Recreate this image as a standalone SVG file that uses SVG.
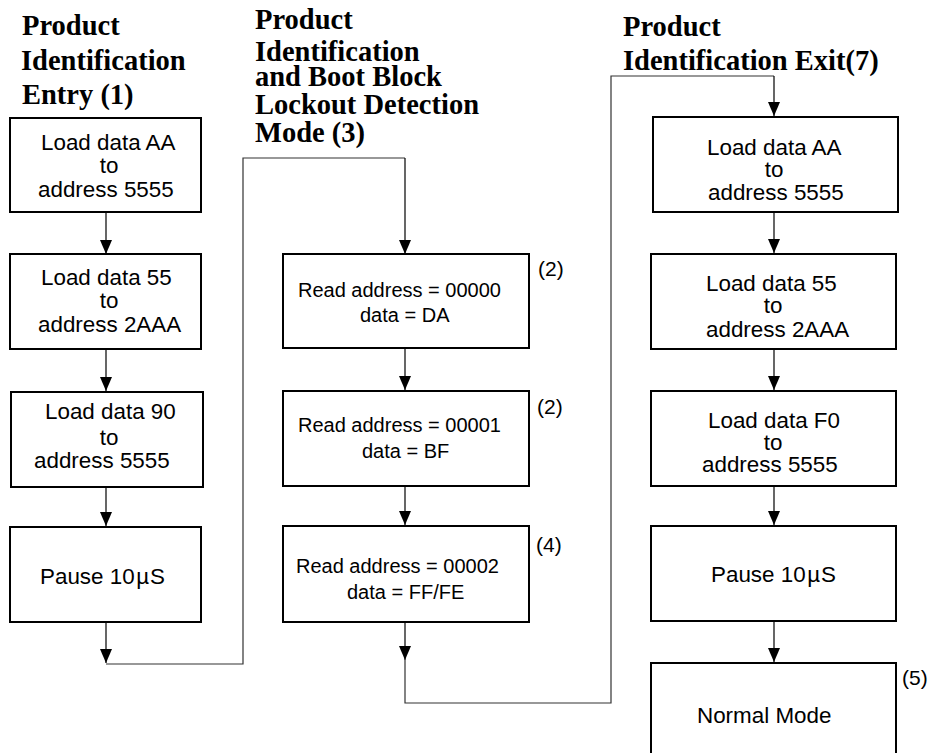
<svg xmlns="http://www.w3.org/2000/svg" width="937" height="753" viewBox="0 0 937 753">
<style>
.box{fill:#fff;stroke:#000;stroke-width:2}
.t{font-family:"Liberation Sans",Arial,sans-serif;font-size:22.4px;fill:#000}
.r{font-family:"Liberation Sans",Arial,sans-serif;font-size:20px;fill:#000}
.n{font-family:"Liberation Sans",Arial,sans-serif;font-size:21px;fill:#000}
.h{font-family:"Liberation Serif","Times New Roman",serif;font-size:28.5px;font-weight:bold;fill:#000}
.c{fill:none;stroke:#000;stroke-width:1.2}
.w{fill:none;stroke:#333;stroke-width:1.2}
.m{text-anchor:middle}
</style>
<defs>
<marker id="ah" markerUnits="userSpaceOnUse" markerWidth="14" markerHeight="12" viewBox="0 0 14 12" refX="14" refY="6" orient="auto">
<path d="M0,0 L14,6 L0,12 z" fill="#000"/>
</marker>
</defs>
<rect width="937" height="753" fill="#fff"/>

<g id="titles">
<text class="h" x="22" y="35">Product</text>
<text class="h" x="21" y="70">Identification</text>
<text class="h" x="22" y="104">Entry (1)</text>
<text class="h" x="255" y="29">Product</text>
<text class="h" x="255" y="61">Identification</text>
<text class="h" x="255" y="86">and Boot Block</text>
<text class="h" x="255" y="114">Lockout Detection</text>
<text class="h" x="255" y="142">Mode (3)</text>
<text class="h" x="623" y="36">Product</text>
<text class="h" x="623" y="70">Identification Exit(7)</text>
</g>

<g id="connectors">
<path class="c" d="M106,212 V254" marker-end="url(#ah)"/>
<path class="c" d="M106,349 V391" marker-end="url(#ah)"/>
<path class="c" d="M106,487 V526" marker-end="url(#ah)"/>
<path class="c" d="M106,622 V663" marker-end="url(#ah)"/>
<path class="w" d="M106,664 H243 V158 H405"/>
<path class="c" d="M405,158 V254" marker-end="url(#ah)"/>
<path class="c" d="M405,348 V390" marker-end="url(#ah)"/>
<path class="c" d="M405,486 V525" marker-end="url(#ah)"/>
<path class="c" d="M405,622 V660" marker-end="url(#ah)"/>
<path class="w" d="M405,660 V703 H611 V76 H774"/>
<path class="c" d="M774,76 V116" marker-end="url(#ah)"/>
<path class="c" d="M774,212 V253" marker-end="url(#ah)"/>
<path class="c" d="M774,349 V390" marker-end="url(#ah)"/>
<path class="c" d="M774,486 V525" marker-end="url(#ah)"/>
<path class="c" d="M774,621 V662" marker-end="url(#ah)"/>
</g>

<g id="entry1">
<rect class="box" x="10" y="118" width="191" height="94"/>
<text class="t" x="41" y="150">Load data AA</text>
<text class="t m" x="109" y="172.5">to</text>
<text class="t" x="38" y="196.5">address 5555</text>
</g>
<g id="entry2">
<rect class="box" x="10" y="254" width="191" height="95"/>
<text class="t" x="41" y="285">Load data 55</text>
<text class="t m" x="109" y="308">to</text>
<text class="t" x="38" y="331.5">address 2AAA</text>
</g>
<g id="entry3">
<rect class="box" x="11" y="392" width="192" height="95"/>
<text class="t" x="45" y="419">Load data 90</text>
<text class="t m" x="109" y="445">to</text>
<text class="t" x="34" y="468">address 5555</text>
</g>
<g id="entry4">
<rect class="box" x="10" y="527" width="191" height="95"/>
<text class="t" x="40" y="584">Pause 10<tspan dx="1.5">µ</tspan><tspan dx="1">S</tspan></text>
</g>

<g id="read1">
<rect class="box" x="283" y="254" width="246" height="94"/>
<text class="r" x="298" y="297">Read address = 00000</text>
<text class="r" x="360" y="322">data = DA</text>
<text class="n" x="538" y="276">(2)</text>
</g>
<g id="read2">
<rect class="box" x="283" y="391" width="246" height="95"/>
<text class="r" x="298" y="432">Read address = 00001</text>
<text class="r" x="362" y="458">data = BF</text>
<text class="n" x="537" y="414">(2)</text>
</g>
<g id="read3">
<rect class="box" x="283" y="526" width="246" height="96"/>
<text class="r" x="296" y="573">Read address = 00002</text>
<text class="r" x="347" y="599">data = FF/FE</text>
<text class="n" x="536" y="552">(4)</text>
</g>

<g id="exit1">
<rect class="box" x="653" y="117" width="245" height="95"/>
<text class="t" x="707" y="154.5">Load data AA</text>
<text class="t m" x="774" y="177">to</text>
<text class="t" x="708" y="200">address 5555</text>
</g>
<g id="exit2">
<rect class="box" x="651" y="254" width="245" height="95"/>
<text class="t" x="706" y="290.5">Load data 55</text>
<text class="t m" x="773" y="313">to</text>
<text class="t" x="706" y="336.5">address 2AAA</text>
</g>
<g id="exit3">
<rect class="box" x="651" y="391" width="245" height="95"/>
<text class="t" x="708" y="427.5">Load data F0</text>
<text class="t m" x="773" y="449.5">to</text>
<text class="t" x="702" y="471.5">address 5555</text>
</g>
<g id="exit4">
<rect class="box" x="651" y="526" width="245" height="95"/>
<text class="t" x="711" y="582">Pause 10<tspan dx="1.5">µ</tspan><tspan dx="1">S</tspan></text>
</g>
<g id="exit5">
<rect class="box" x="651" y="663" width="245" height="110"/>
<text class="t" x="697" y="722.5">Normal Mode</text>
<text class="n" x="902" y="685">(5)</text>
</g>
</svg>
